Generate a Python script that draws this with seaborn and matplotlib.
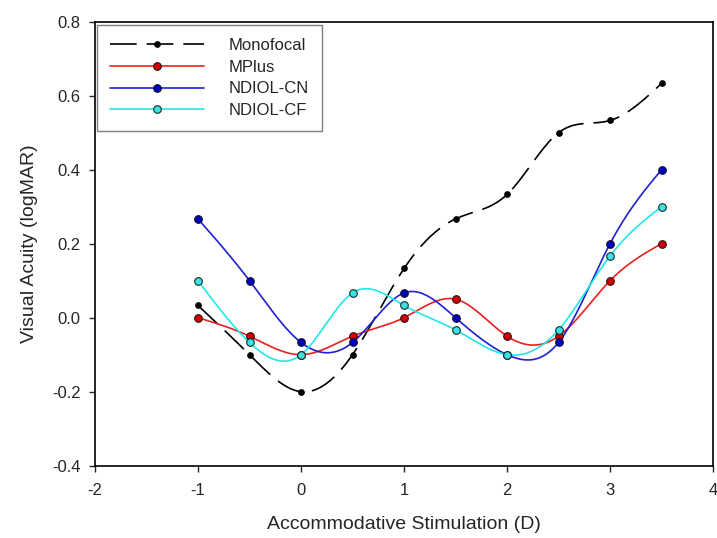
import numpy as np
import pandas as pd
import matplotlib
matplotlib.use("Agg")
import matplotlib.pyplot as plt
from matplotlib.lines import Line2D
import seaborn as sns

# accommodative stimulus (D) and mean VA (logMAR) per lens
stimulus = [-1.0, -0.5, 0.0, 0.5, 1.0, 1.5, 2.0, 2.5, 3.0, 3.5]
monofocal = [0.033, -0.1, -0.2, -0.1, 0.133, 0.267, 0.333, 0.5, 0.533, 0.633]
mplus = [0.0, -0.05, -0.1, -0.05, 0.0, 0.05, -0.05, -0.05, 0.1, 0.2]
ndiol_cn = [0.267, 0.1, -0.067, -0.067, 0.067, 0.0, -0.1, -0.067, 0.2, 0.4]
ndiol_cf = [0.1, -0.067, -0.1, 0.067, 0.033, -0.033, -0.1, -0.033, 0.167, 0.3]

lens_names = ["Monofocal", "MPlus", "NDIOL-CN", "NDIOL-CF"]


def smooth(x, y, n=300):
    # natural cubic spline through the points (sigmaplot style curve)
    x = np.asarray(x, float)
    y = np.asarray(y, float)
    h = np.diff(x)
    k = len(x)
    A = np.zeros((k, k))
    b = np.zeros(k)
    A[0, 0] = A[-1, -1] = 1
    for i in range(1, k - 1):
        A[i, i - 1] = h[i - 1]
        A[i, i] = 2 * (h[i - 1] + h[i])
        A[i, i + 1] = h[i]
        b[i] = 6 * ((y[i + 1] - y[i]) / h[i] - (y[i] - y[i - 1]) / h[i - 1])
    m = np.linalg.solve(A, b)
    xs = np.linspace(x[0], x[-1], n)
    j = np.clip(np.searchsorted(x, xs) - 1, 0, k - 2)
    hj = h[j]
    a = x[j + 1] - xs
    t = xs - x[j]
    ys = (m[j] * a ** 3 / (6 * hj) + m[j + 1] * t ** 3 / (6 * hj)
          + (y[j] / hj - m[j] * hj / 6) * a
          + (y[j + 1] / hj - m[j + 1] * hj / 6) * t)
    return xs, ys


sns.set_style("ticks")
plt.rcParams["font.family"] = ["Liberation Sans", "DejaVu Sans"]
plt.rcParams["axes.unicode_minus"] = False

fig = plt.figure(figsize=(7.17, 5.38), dpi=100)
ax = fig.add_axes([0.1325, 0.1344, 0.862, 0.8253])

styles = {
    "Monofocal": dict(line="black", face="black", edge="black", ms=4.0, dash=(16, 6)),
    "MPlus": dict(line="#e82020", face="#d00000", edge="#301010", ms=5.5, dash=None),
    "NDIOL-CN": dict(line="#2020d0", face="#0000c0", edge="#101030", ms=5.5, dash=None),
    "NDIOL-CF": dict(line="#20e8e8", face="#40e0e0", edge="#103030", ms=5.5, dash=None),
}

series = [monofocal, mplus, ndiol_cn, ndiol_cf]
handles = []
for name, vals in zip(lens_names, series):
    st = styles[name]
    xs, ys = smooth(stimulus, vals)
    curve = pd.DataFrame({"x": xs, "y": ys})
    sns.lineplot(data=curve, x="x", y="y", color=st["line"], lw=1.2, ax=ax,
                 estimator=None, sort=False)
    if st["dash"]:
        ax.lines[-1].set_dashes(st["dash"])
    pts = pd.DataFrame({"x": stimulus, "y": vals})
    sns.scatterplot(data=pts, x="x", y="y", color=st["face"], edgecolor=st["edge"],
                    s=st["ms"] ** 2, linewidth=0.8, ax=ax, zorder=3)
    h = Line2D([], [], color=st["line"], lw=1.2, marker="o", markersize=st["ms"],
               markerfacecolor=st["face"], markeredgecolor=st["edge"], markeredgewidth=0.8)
    if st["dash"]:
        h.set_dashes(st["dash"])
    handles.append(h)

ax.set_xlim(-2, 4)
ax.set_ylim(-0.4, 0.8)
ax.set_xticks([-2, -1, 0, 1, 2, 3, 4])
ax.set_yticks([-0.4, -0.2, 0.0, 0.2, 0.4, 0.6, 0.8])
ax.set_yticklabels(["-0.4", "-0.2", "0.0", "0.2", "0.4", "0.6", "0.8"])
ax.tick_params(axis="both", direction="out", length=4.5, width=1, labelsize=12,
               top=False, right=False)
ax.tick_params(axis="x", pad=8)
ax.tick_params(axis="y", pad=6)
for sp in ax.spines.values():
    sp.set_linewidth(1.2)
    sp.set_color("black")

ax.set_xlabel("Accommodative Stimulation (D)", fontsize=14, labelpad=13)
ax.set_ylabel("Visual Acuity (logMAR)", fontsize=14, labelpad=10)

leg = ax.legend(handles, lens_names, loc="upper left", bbox_to_anchor=(0.003, 0.993),
                borderaxespad=0, fontsize=12, handlelength=5.6, handletextpad=1.5,
                labelspacing=0.4, borderpad=0.8, fancybox=False, framealpha=1)
leg.get_frame().set_edgecolor("#808080")
leg.get_frame().set_linewidth(1.0)

fig.savefig("out.png", dpi=100)
